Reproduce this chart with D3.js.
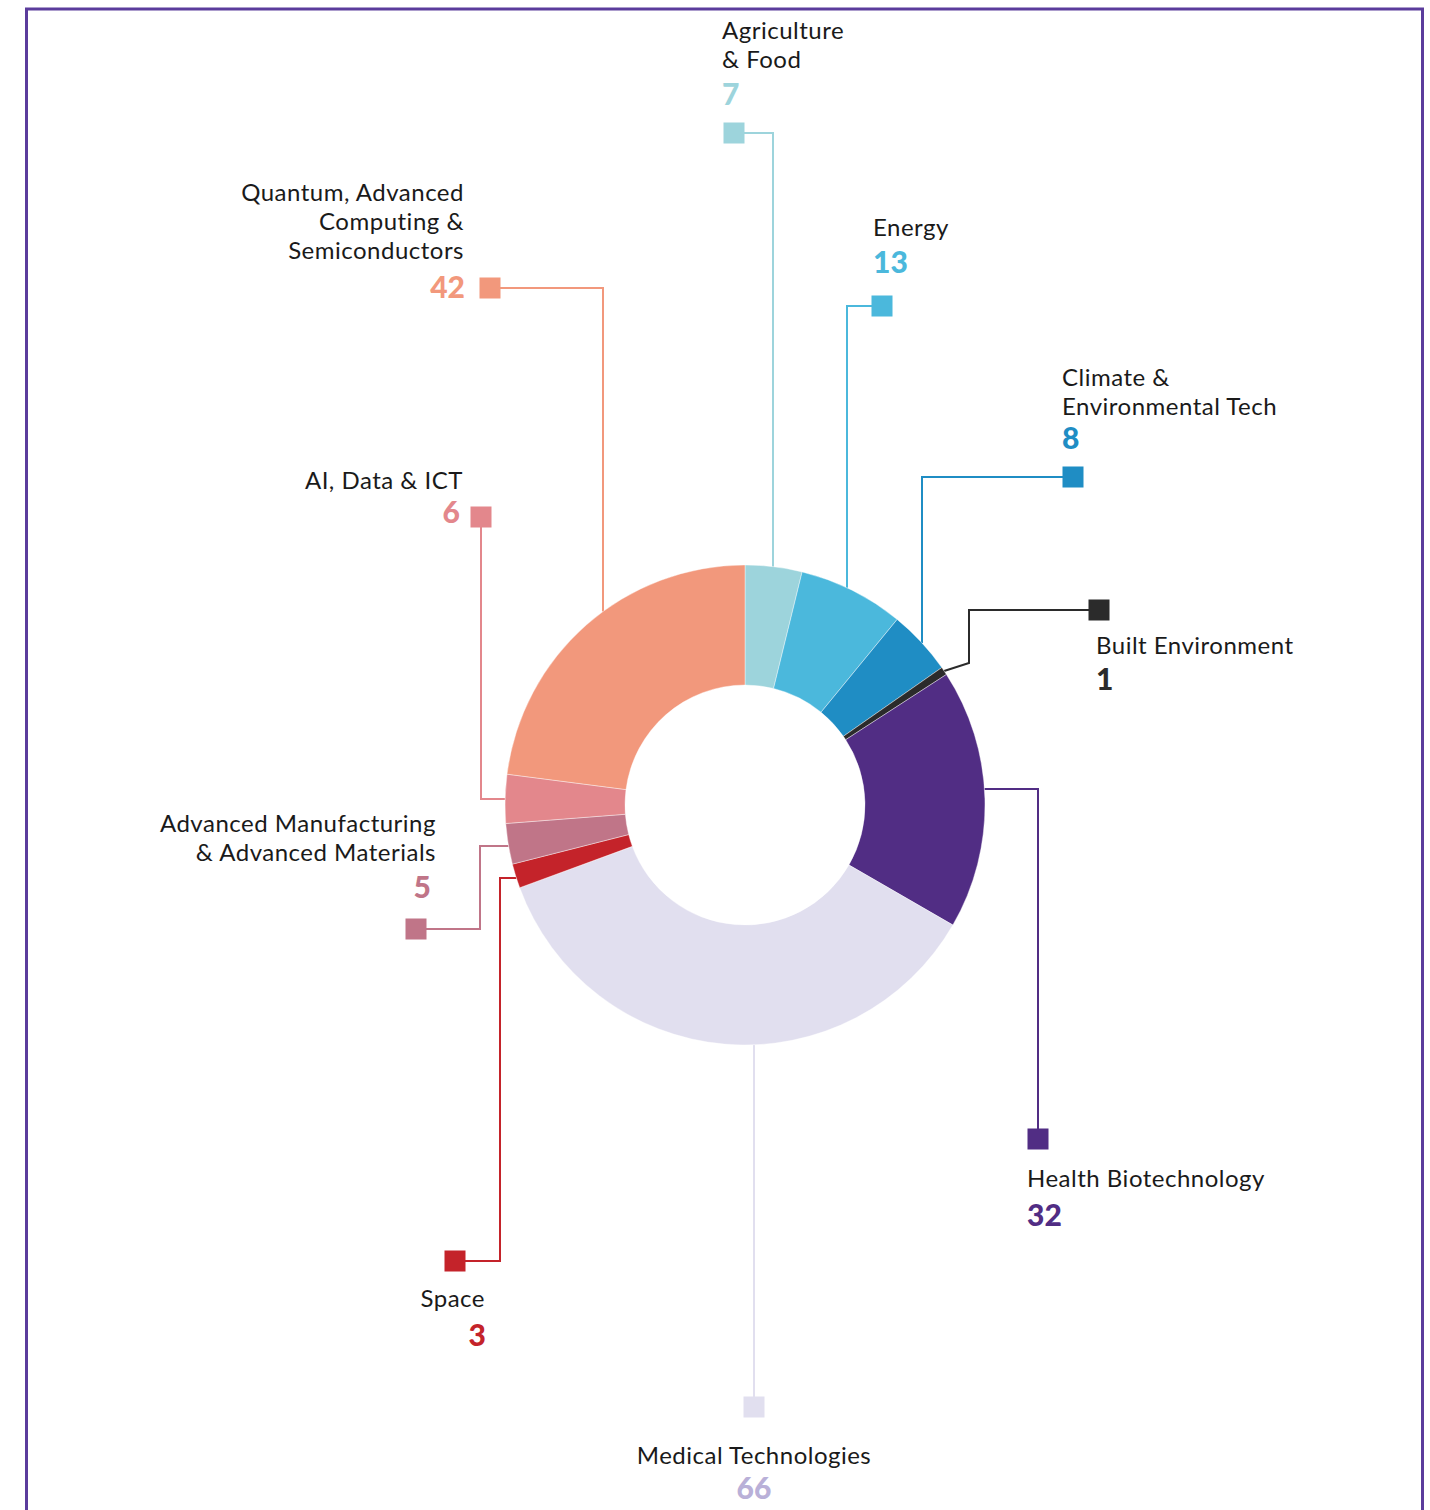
<!DOCTYPE html>
<html>
<head>
<meta charset="utf-8">
<script src="https://cdn.jsdelivr.net/npm/d3@7"></script>
<style>
  body { margin: 0; background: #fff; }
  svg { display: block; }
  .lbl { font-family: Lato, "Noto Sans", sans-serif; font-size: 24px; letter-spacing: 0.5px; fill: #1a1a1a; }
  .num { font-family: Lato, "Noto Sans", sans-serif; font-size: 30px; font-weight: 900; }
</style>
</head>
<body>
<script>
// data, clockwise from 12 o'clock
var categories = ["Agriculture & Food", "Energy", "Climate & Environmental Tech", "Built Environment",
    "Health Biotechnology", "Medical Technologies", "Space",
    "Advanced Manufacturing & Advanced Materials", "AI, Data & ICT",
    "Quantum, Advanced Computing & Semiconductors"];
var values = [7, 13, 8, 1, 32, 66, 3, 5, 6, 42];
var labelLines = [
    ["Agriculture", "& Food"],
    ["Energy"],
    ["Climate &", "Environmental Tech"],
    ["Built Environment"],
    ["Health Biotechnology"],
    ["Medical Technologies"],
    ["Space"],
    ["Advanced Manufacturing", "& Advanced Materials"],
    ["AI, Data & ICT"],
    ["Quantum, Advanced", "Computing &", "Semiconductors"]
];
var colors = ["#9dd4dc", "#4bb8dc", "#1f8dc4", "#2b2b2b", "#512d84", "#e1dfef", "#c4232a", "#c07588", "#e3878c", "#f2987c"];
var numColors = ["#9dd4dc", "#4bb8dc", "#1f8dc4", "#2b2b2b", "#512d84", "#b9b0d8", "#c4232a", "#c07588", "#e3878c", "#f2987c"];

var width = 1430, height = 1510;
var cx = 745, cy = 805, outerR = 240, innerR = 120;

// callout layout: square position, leader route, label anchor
var layout = [
    {sq: [734, 133], route: "v", at: 773, side: -1, tx: 722, ty: 39, anchor: "start", nx: 722, ny: 105},
    {sq: [882, 306], route: "v", at: 847, side: -1, tx: 873, ty: 236, anchor: "start", nx: 873, ny: 273},
    {sq: [1073, 477], route: "v", at: 922, side: -1, tx: 1062, ty: 386, anchor: "start", nx: 1062, ny: 449},
    {sq: [1099, 610], route: "b", at: 969, knee: 663, tx: 1096, ty: 654, anchor: "start", nx: 1096, ny: 690},
    {sq: [1038, 1139], route: "hv", at: 789, side: 1, tx: 1027, ty: 1187, anchor: "start", nx: 1027, ny: 1226},
    {sq: [754, 1407], route: "v", at: 754, side: 1, tx: 754, ty: 1464, anchor: "middle", nx: 754, ny: 1499},
    {sq: [455, 1261], route: "hvh", at: 878, knee: 500, side: -1, tx: 485, ty: 1307, anchor: "end", nx: 486, ny: 1346},
    {sq: [416, 929], route: "hvh", at: 846, knee: 480, side: -1, tx: 436, ty: 832, anchor: "end", nx: 431, ny: 898},
    {sq: [481, 517], route: "hv", at: 799, side: -1, tx: 463, ty: 489, anchor: "end", nx: 460, ny: 523},
    {sq: [490, 288], route: "v", at: 603, side: -1, tx: 464, ty: 201, anchor: "end", nx: 465, ny: 298}
];

var data = categories.map(function(c, i) {
    return {name: c, value: values[i], color: colors[i], numColor: numColors[i], lines: labelLines[i], lay: layout[i]};
});

var svg = d3.select("body").append("svg")
    .attr("width", width)
    .attr("height", height);

// frame
svg.append("rect")
    .attr("x", 26.5).attr("y", 9)
    .attr("width", 1396).attr("height", 1540)
    .attr("fill", "none")
    .attr("stroke", "#5b3c9c")
    .attr("stroke-width", 3);

var pie = d3.pie().sort(null).value(function(d) { return d.value; });
var arc = d3.arc().innerRadius(innerR).outerRadius(outerR);
var arcs = pie(data);

// point on outer ring where a vertical (x fixed) or horizontal (y fixed) leader meets it
function ringY(x, side) { var dx = x - cx; return cy + side * Math.sqrt(outerR * outerR - dx * dx); }
function ringX(y, side) { var dy = y - cy; return cx + side * Math.sqrt(outerR * outerR - dy * dy); }

function leader(a) {
    var l = a.data.lay, s = l.sq, p = d3.path();
    p.moveTo(s[0], s[1]);
    if (l.route === "v") {
        p.lineTo(l.at, s[1]);
        p.lineTo(l.at, ringY(l.at, l.side));
    } else if (l.route === "hv") {
        p.lineTo(s[0], l.at);
        p.lineTo(ringX(l.at, l.side), l.at);
    } else if (l.route === "hvh") {
        p.lineTo(l.knee, s[1]);
        p.lineTo(l.knee, l.at);
        p.lineTo(ringX(l.at, l.side), l.at);
    } else {
        var mid = (a.startAngle + a.endAngle) / 2;
        p.lineTo(l.at, s[1]);
        p.lineTo(l.at, l.knee);
        p.lineTo(cx + outerR * Math.sin(mid), cy - outerR * Math.cos(mid));
    }
    return p.toString();
}

var callouts = svg.append("g").attr("class", "callouts");

callouts.selectAll("path")
    .data(arcs)
    .enter().append("path")
    .attr("d", leader)
    .attr("fill", "none")
    .attr("stroke", function(d) { return d.data.color; })
    .attr("stroke-width", 2);

callouts.selectAll("rect")
    .data(arcs)
    .enter().append("rect")
    .attr("x", function(d) { return d.data.lay.sq[0] - 10.5; })
    .attr("y", function(d) { return d.data.lay.sq[1] - 10.5; })
    .attr("width", 21)
    .attr("height", 21)
    .attr("fill", function(d) { return d.data.color; });

svg.append("g")
    .attr("transform", "translate(" + cx + "," + cy + ")")
  .selectAll("path")
    .data(arcs)
    .enter().append("path")
    .attr("d", arc)
    .attr("fill", function(d) { return d.data.color; })
    .attr("stroke", "#fff")
    .attr("stroke-width", 0.4);

// labels
var labels = svg.append("g").selectAll("g")
    .data(data)
    .enter().append("g");

labels.append("text")
    .attr("class", "lbl")
    .attr("text-anchor", function(d) { return d.lay.anchor; })
    .each(function(d) {
        var t = d3.select(this);
        d.lines.forEach(function(line, i) {
            t.append("tspan")
                .attr("x", d.lay.tx)
                .attr("y", d.lay.ty + i * 29)
                .text(line);
        });
    });

labels.append("text")
    .attr("class", "num")
    .attr("x", function(d) { return d.lay.nx; })
    .attr("y", function(d) { return d.lay.ny; })
    .attr("text-anchor", function(d) { return d.lay.anchor; })
    .attr("fill", function(d) { return d.numColor; })
    .text(function(d) { return d.value; });
</script>
</body>
</html>
